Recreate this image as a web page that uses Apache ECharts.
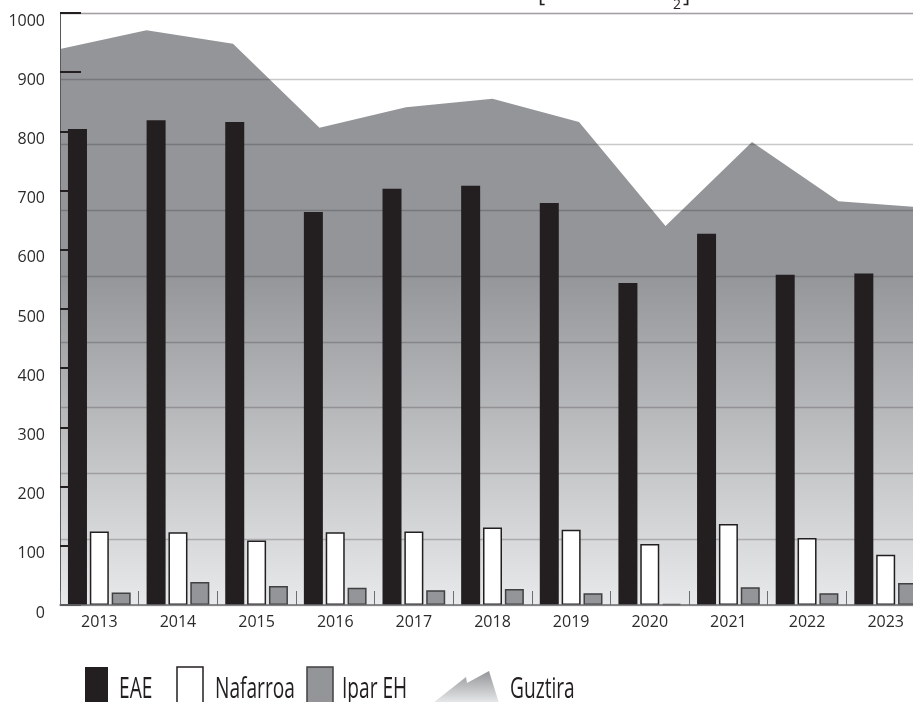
<!DOCTYPE html>
<html>
<head>
<meta charset="utf-8">
<style>
  html, body { margin: 0; padding: 0; background: #ffffff; overflow: hidden; }
  #chart { width: 913px; height: 702px; }
</style>
<script src="https://cdn.jsdelivr.net/npm/echarts@6/dist/echarts.min.js"></script>
</head>
<body>
<div id="chart"></div>
<script>
// Years on the category axis
const years = ['2013', '2014', '2015', '2016', '2017', '2018', '2019', '2020', '2021', '2022', '2023'];

// Series values per year
const eae      = [804, 819, 816, 664, 703, 708, 679, 544, 627, 558, 560];
const nafarroa = [124, 123, 109, 123, 124, 131, 127, 103, 137, 113, 85];
const iparEH   = [21, 39, 32, 29, 25, 27, 20, 2, 30, 20, 37];
const guztira  = [939, 971, 948, 806, 841, 855, 816, 640, 782, 682, 671];

// Series names (also used by the legend drawn below the plot)
const seriesNames = ['EAE', 'Nafarroa', 'Ipar EH', 'Guztira'];

// Value axis range and step for the tick labels
const yMin = 0, yMax = 1000, yStep = 100;
// Background rule lines divide the full range into nine bands
const ruleStep = (yMax - yMin) / 9;

const INK = '#231f20';
const GREY = '#939598';
const TEXT = '#2b2b2b';
const FONT = '"Open Sans", "Noto Sans", sans-serif';

const chart = echarts.init(document.getElementById('chart'), null, { renderer: 'canvas' });

const areaGradient = new echarts.graphic.LinearGradient(0, 0, 0, 1, [
  { offset: 0, color: GREY },
  { offset: 0.42, color: GREY },
  { offset: 1, color: '#e8e9ea' }
]);

const legendText = (x, label) => ({
  type: 'text',
  x: x, y: 690,
  scaleX: 0.66,
  silent: true,
  style: {
    text: label,
    fontFamily: FONT,
    fontSize: 29,
    fill: INK,
    verticalAlign: 'middle'
  }
});

const option = {
  animation: false,
  backgroundColor: '#ffffff',
  // the plot runs a little past the right edge of the canvas
  grid: { left: 60, width: 865, top: 13, bottom: 97, containLabel: false, outerBoundsMode: 'none' },
  xAxis: [
    {
      type: 'category',
      data: years,
      boundaryGap: true,
      z: 4,
      axisLine: { show: true, lineStyle: { color: '#6d6e71', width: 1.5 } },
      axisTick: { show: true, inside: true, length: 14, lineStyle: { color: '#6d6e71', width: 1 } },
      axisLabel: { color: TEXT, fontFamily: FONT, fontSize: 16, margin: 9 },
      splitLine: { show: false }
    },
    {
      type: 'category',
      data: years,
      boundaryGap: false,
      show: false
    }
  ],
  yAxis: [
    {
      type: 'value',
      min: yMin, max: yMax, interval: yStep,
      z: 1.5,
      axisLine: { show: true, lineStyle: { color: '#58595b', width: 1 } },
      axisTick: { show: true, inside: true, length: 21, lineStyle: { color: INK, width: 2 } },
      axisLabel: {
        color: TEXT, fontFamily: FONT, fontSize: 16, margin: 15, verticalAlign: 'top',
        formatter: (v) => String(v)
      },
      splitLine: { show: false }
    },
    {
      type: 'value',
      min: yMin, max: yMax, interval: ruleStep,
      z: 1.5,
      axisLine: { show: false },
      axisTick: { show: false },
      axisLabel: { show: false },
      splitLine: { show: true, lineStyle: { color: 'rgba(35,31,32,0.24)', width: 1.3 } }
    }
  ],
  series: [
    {
      name: seriesNames[3],
      type: 'line',
      xAxisIndex: 1,
      yAxisIndex: 0,
      data: guztira,
      symbol: 'none',
      silent: true,
      z: 1,
      lineStyle: { width: 0 },
      areaStyle: { color: areaGradient, opacity: 1 }
    },
    {
      name: seriesNames[0],
      type: 'bar',
      data: eae,
      barWidth: 19,
      barGap: '15%',
      z: 3,
      itemStyle: { color: INK }
    },
    {
      name: seriesNames[1],
      type: 'bar',
      data: nafarroa,
      barWidth: 19,
      barGap: '15%',
      z: 3,
      itemStyle: { color: '#ffffff', borderColor: INK, borderWidth: 1.5 }
    },
    {
      name: seriesNames[2],
      type: 'bar',
      data: iparEH,
      barWidth: 19,
      barGap: '15%',
      z: 3,
      itemStyle: { color: GREY, borderColor: '#414042', borderWidth: 1.5 }
    }
  ],
  graphic: [
    // unit brackets of the heading, cut by the top edge
    { type: 'text', x: 538, y: 7, silent: true,
      style: { text: '[', fontFamily: FONT, fontSize: 22, fill: INK, verticalAlign: 'bottom' } },
    { type: 'text', x: 673, y: 12, silent: true,
      style: { text: '2', fontFamily: FONT, fontSize: 14, fill: INK, verticalAlign: 'bottom' } },
    { type: 'text', x: 683, y: 7, silent: true,
      style: { text: ']', fontFamily: FONT, fontSize: 22, fill: INK, verticalAlign: 'bottom' } },

    // legend
    { type: 'rect', silent: true, shape: { x: 85, y: 667, width: 23, height: 40 }, style: { fill: INK } },
    legendText(119, seriesNames[0]),
    { type: 'rect', silent: true, shape: { x: 177, y: 667, width: 26, height: 40 },
      style: { fill: '#ffffff', stroke: INK, lineWidth: 1.5 } },
    legendText(215, seriesNames[1]),
    { type: 'rect', silent: true, shape: { x: 307, y: 667, width: 26, height: 40 },
      style: { fill: GREY, stroke: '#414042', lineWidth: 1.5 } },
    legendText(342, seriesNames[2]),
    { type: 'polygon', silent: true,
      shape: { points: [[433, 703], [466, 677], [467, 683], [489, 671], [499, 703]] },
      style: { fill: new echarts.graphic.LinearGradient(0, 0, 0, 1, [
        { offset: 0, color: GREY }, { offset: 1, color: '#e8e9ea' }
      ]) } },
    legendText(510, seriesNames[3])
  ]
};

chart.setOption(option);
</script>
</body>
</html>
